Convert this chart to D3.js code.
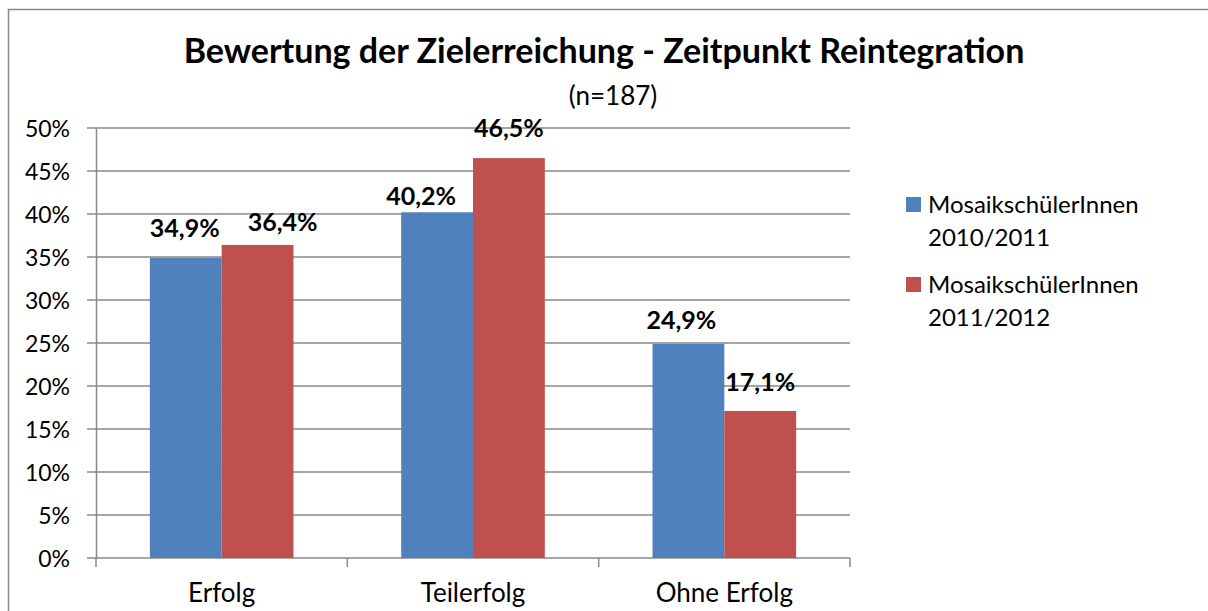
<!DOCTYPE html>
<html>
<head>
<meta charset="utf-8">
<script src="https://cdn.jsdelivr.net/npm/d3@7"></script>
<style>
  body { margin: 0; background: #fff; }
  text { font-family: Lato, "Open Sans", sans-serif; fill: #000; }
</style>
</head>
<body>
<script>
// chart data
var categories = ["Erfolg", "Teilerfolg", "Ohne Erfolg"];
var seriesNames = ["MosaikschülerInnen 2010/2011", "MosaikschülerInnen 2011/2012"];
var series2010 = [34.9, 40.2, 24.9];
var series2011 = [36.4, 46.5, 17.1];
var yTicks = [0, 5, 10, 15, 20, 25, 30, 35, 40, 45, 50];

var colors = ["#4F81BD", "#C0504D"];

// label nudges [dx, gap above bar] per category and series (Excel moves overlapping labels)
var labelNudge = [
  [[-1, 21], [25, 14]],
  [[-16, 7], [0, 21]],
  [[-7, 15], [0, 20]]
];

var svgWidth = 1208;
var svgHeight = 611;

var chartMargin = { top: 128, left: 96, right: 358 };
var chartWidth = svgWidth - chartMargin.left - chartMargin.right;
var chartHeight = 558 - chartMargin.top;

var svg = d3.select("body")
  .append("svg")
  .attr("width", svgWidth)
  .attr("height", svgHeight);

// outer frame (right and bottom edges lie outside the picture)
svg.append("rect")
  .attr("x", 8.5)
  .attr("y", 9.5)
  .attr("width", 1300)
  .attr("height", 700)
  .attr("fill", "none")
  .attr("stroke", "#898989")
  .attr("stroke-width", 1.5);

svg.append("text")
  .attr("x", 604)
  .attr("y", 63)
  .attr("text-anchor", "middle")
  .style("font-weight", "bold")
  .style("font-size", "34px")
  .text("Bewertung der Zielerreichung - Zeitpunkt Reintegration");

svg.append("text")
  .attr("x", 613)
  .attr("y", 105)
  .attr("text-anchor", "middle")
  .style("font-size", "26px")
  .text("(n=187)");

var chartGroup = svg.append("g")
  .attr("transform", `translate(${chartMargin.left}, ${chartMargin.top})`);

var xScale = d3.scaleBand()
  .domain(categories)
  .range([0, chartWidth]);

var barW = xScale.bandwidth() / 3.5;

var yScale = d3.scaleLinear()
  .domain([0, 50])
  .range([chartHeight, 0]);

// gridlines
chartGroup.selectAll(".grid")
  .data(yTicks)
  .enter()
  .append("line")
  .attr("x1", -9)
  .attr("x2", chartWidth)
  .attr("y1", d => yScale(d))
  .attr("y2", d => yScale(d))
  .attr("stroke", "#898989")
  .attr("stroke-width", 1.5);

// y axis
var leftAxis = d3.axisLeft(yScale)
  .tickValues(yTicks)
  .tickSize(0)
  .tickPadding(26)
  .tickFormat(d => d + "%");

chartGroup.append("g")
  .call(leftAxis)
  .call(g => g.select(".domain").attr("stroke", "#898989").attr("stroke-width", 1.5))
  .selectAll("text")
  .style("font-size", "23px")
  .attr("dy", "0.36em");

// x axis
var bottomAxis = d3.axisBottom(xScale)
  .tickSize(0);

var xAxisG = chartGroup.append("g")
  .attr("transform", `translate(0, ${chartHeight})`)
  .call(bottomAxis);
xAxisG.select(".domain").remove();
xAxisG.selectAll("text")
  .style("font-size", "26px")
  .attr("y", 44)
  .attr("dy", 0);

// category tick marks between bands
chartGroup.selectAll(".xtick")
  .data(d3.range(categories.length + 1))
  .enter()
  .append("line")
  .attr("x1", d => d * xScale.step())
  .attr("x2", d => d * xScale.step())
  .attr("y1", chartHeight)
  .attr("y2", chartHeight + 9)
  .attr("stroke", "#898989")
  .attr("stroke-width", 1.5);

// bars
var allSeries = [series2010, series2011];
allSeries.forEach(function(values, s) {
  chartGroup.selectAll(".bar" + s)
    .data(values)
    .enter()
    .append("rect")
    .attr("x", (d, i) => xScale(categories[i]) + xScale.bandwidth() / 2 - barW + s * barW)
    .attr("y", d => yScale(d))
    .attr("width", barW)
    .attr("height", d => chartHeight - yScale(d))
    .attr("fill", colors[s]);

  chartGroup.selectAll(".label" + s)
    .data(values)
    .enter()
    .append("text")
    .attr("x", (d, i) => xScale(categories[i]) + xScale.bandwidth() / 2 - barW / 2 + s * barW + labelNudge[i][s][0])
    .attr("y", (d, i) => yScale(d) - labelNudge[i][s][1])
    .attr("text-anchor", "middle")
    .style("font-size", "25px")
    .style("font-weight", "bold")
    .text(d => d.toFixed(1).replace(".", ",") + "%");
});

// legend
var legend = svg.append("g")
  .attr("transform", "translate(906, 197)");

seriesNames.forEach(function(name, i) {
  var item = legend.append("g")
    .attr("transform", `translate(0, ${i * 80})`);
  item.append("rect")
    .attr("width", 15)
    .attr("height", 15)
    .attr("fill", colors[i]);
  var parts = name.split(" ");
  item.append("text")
    .attr("x", 22)
    .attr("y", 16)
    .style("font-size", "24px")
    .text(parts[0]);
  item.append("text")
    .attr("x", 22)
    .attr("y", 49)
    .style("font-size", "24px")
    .text(parts[1]);
});
</script>
</body>
</html>
